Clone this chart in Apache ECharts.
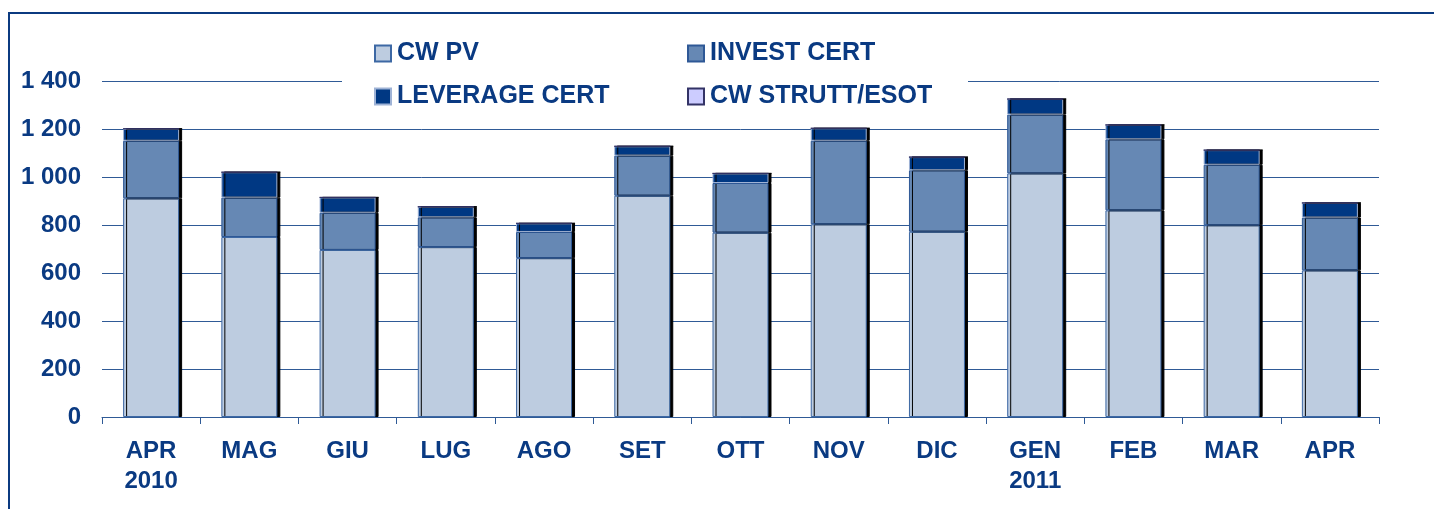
<!DOCTYPE html>
<html>
<head>
<meta charset="utf-8">
<script src="https://cdn.jsdelivr.net/npm/echarts@6/dist/echarts.min.js"></script>
<style>
  body { margin: 0; background: #fff; }
  #wrap { position: relative; width: 1434px; height: 509px; }
  #chart { width: 1434px; height: 509px; }
  #frame {
    position: absolute; left: 8px; top: 12px; right: 0; bottom: 0;
    border-left: 2px solid #0b3a80; border-top: 2px solid #0b3a80;
    pointer-events: none;
  }
</style>
</head>
<body>
<div id="wrap">
  <div id="chart"></div>
  <div id="frame"></div>
</div>
<script>
const months = ["APR\n2010", "MAG", "GIU", "LUG", "AGO", "SET", "OTT", "NOV", "DIC", "GEN\n2011", "FEB", "MAR", "APR"];
const cwPv = [911, 750, 696, 708, 662, 922, 768, 803, 772, 1015, 861, 799, 611];
const investCert = [240, 164, 155, 124, 109, 167, 207, 348, 256, 245, 296, 252, 220];
const leverageCert = [50, 106, 64, 44, 36, 39, 40, 52, 55, 65, 60, 61, 61];
const cwStrutt = [0, 0, 0, 0, 0, 0, 0, 0, 0, 0, 0, 0, 0];
const yTicks = { min: 0, max: 1400, interval: 200 };

const textColor = "#0a3a82";
const font = "Liberation Sans";

const chart = echarts.init(document.getElementById("chart"));

function legendAt(name, left, top) {
  return {
    data: [name],
    left: left,
    top: top,
    padding: 0,
    itemWidth: 16,
    itemHeight: 16,
    selectedMode: false,
    icon: "rect",
    textStyle: { color: textColor, fontSize: 25, fontWeight: "bold", fontFamily: font, padding: [0, 0, 0, 1] },
  };
}

function barSeries(name, data, color, border) {
  return {
    name: name,
    type: "bar",
    stack: "tot",
    data: data,
    barCategoryGap: "43%",
    itemStyle: {
      color: color,
      borderColor: border,
      borderWidth: 1,
      shadowColor: "#000",
      shadowOffsetX: 3,
      shadowOffsetY: 0,
      shadowBlur: 0,
    },
  };
}

const option = {
  animation: false,
  textStyle: { fontFamily: font },
  legend: [
    legendAt("CW PV", 374, 41),
    legendAt("INVEST CERT", 687, 41),
    legendAt("LEVERAGE CERT", 374, 84),
    legendAt("CW STRUTT/ESOT", 687, 84),
  ],
  graphic: [
    {
      type: "rect",
      z: 3,
      shape: { x: 342, y: 74, width: 626, height: 14 },
      style: { fill: "#fff" },
    },
  ],
  grid: { left: 102, right: 55, top: 81, bottom: 92 },
  xAxis: {
    type: "category",
    data: months,
    axisLine: { lineStyle: { color: "#2f5a96", width: 1 } },
    axisTick: { show: true, length: 7, lineStyle: { color: "#2f5a96" } },
    axisLabel: {
      color: textColor,
      fontSize: 24,
      fontWeight: "bold",
      fontFamily: font,
      margin: 19,
      lineHeight: 30,
    },
  },
  yAxis: {
    type: "value",
    min: yTicks.min,
    max: yTicks.max,
    interval: yTicks.interval,
    axisLine: { show: false },
    axisTick: { show: false },
    splitLine: { lineStyle: { color: "#2f5a96", width: 1 } },
    axisLabel: {
      color: textColor,
      fontSize: 24,
      fontWeight: "bold",
      fontFamily: font,
      margin: 21,
      formatter: (v) => (v >= 1000 ? Math.floor(v / 1000) + " " + String(v % 1000).padStart(3, "0") : String(v)),
    },
  },
  series: [
    barSeries("CW PV", cwPv, "#bdcce0", "#3d68a4"),
    barSeries("INVEST CERT", investCert, "#6688b4", "#2e5896"),
    barSeries("LEVERAGE CERT", leverageCert, "#003883", "#9fb3d6"),
    barSeries("CW STRUTT/ESOT", cwStrutt, "#ccccff", "#333366"),
  ],
};

chart.setOption(option);
window.addEventListener("resize", () => chart.resize());
</script>
</body>
</html>
